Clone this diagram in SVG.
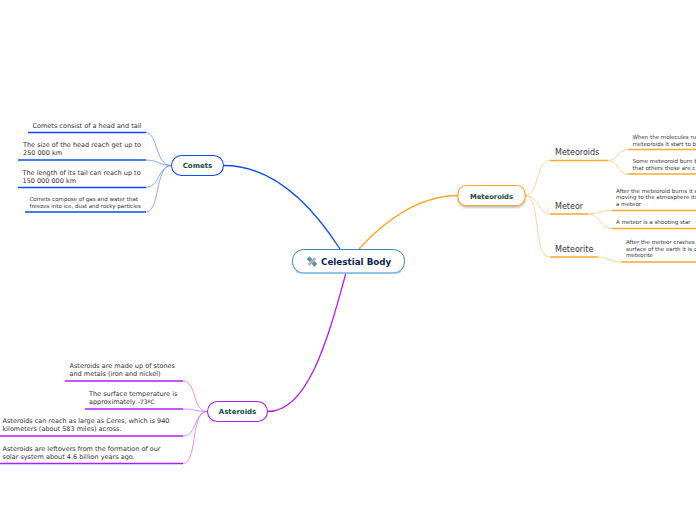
<svg xmlns="http://www.w3.org/2000/svg" width="696" height="520" viewBox="0 0 696 520">
<style>
text{font-family:"DejaVu Sans","Liberation Sans",sans-serif;fill:#333}
.t7{font-size:6.5px}.t5{font-size:5.5px}
.mt{font-size:7px;font-weight:bold;fill:#164a3c;text-anchor:middle}
.sub{font-size:8px}
path{fill:none}
.bl{stroke:#0a4cf5}.pu{stroke:#b01cff}.or{stroke:#ffa726}
.thin{stroke-width:.8;opacity:.6}
.ul{stroke-width:1.6}
.main{stroke-width:1.3}
.node{fill:#fff;stroke-width:1.1}
</style>
<defs><filter id="sh" x="-10%" y="-20%" width="120%" height="150%"><feDropShadow dx="0" dy="1.5" stdDeviation="1" flood-color="#000" flood-opacity=".3"/></filter></defs>
<g id="connectors">
<path class="bl main" d="M340 249C320 218 280 165.500 224 165.500"/>
<path class="or main" d="M359 249C385 220 420 195.500 458 195.500"/>
<path class="pu main" d="M346 273C330 330 310 411.500 268 411.500"/>
<g class="bl ul"><path d="M28 132.500H146"/><path d="M18 160H146"/><path d="M18 187.500H146"/><path d="M25 212H146"/></g>
<g class="bl thin"><path d="M146 132.500C158 133 155 165 171 165.500"/><path d="M146 160C158 160 160 165.500 171 165.500"/><path d="M146 187.500C160 187 158 166 171 165.500"/><path d="M146 212C160 212 155 166 171 165.500"/></g>
<g class="pu ul"><path d="M65 381H183"/><path d="M85 409H183"/><path d="M0 436H183"/><path d="M0 463.500H183"/></g>
<g class="pu thin"><path d="M183 381C197 381 192 411 207 411.500"/><path d="M183 409C195 409 197 411.500 207 411.500"/><path d="M183 436C197 436 194 412 207 411.500"/><path d="M183 463.500C198 463 190 412 207 411.500"/></g>
<g class="or ul"><path d="M550 160.500H608"/><path d="M550 214H588"/><path d="M550 257H598"/><path d="M628 149.500H696"/><path d="M628 174H696"/><path d="M612 210.500H696"/><path d="M612 228.500H696"/><path d="M621 262H696"/></g>
<g class="or thin"><path d="M525 195.500C540 195 535 160.500 550 160.500"/><path d="M525 195.500C540 196 538 214 550 214"/><path d="M525 195.500C542 196 532 257 550 257"/><path d="M608 160.500C618 160.500 618 149.500 628 149.500"/><path d="M608 160.500C618 160.500 618 174 628 174"/><path d="M588 214C600 214 600 210.500 612 210.500"/><path d="M588 214C600 214 600 228.500 612 228.500"/><path d="M598 257C610 257 608 262 621 262"/></g>
</g>
<g id="central">
<rect x="292.500" y="249.500" width="112" height="23.500" rx="11" fill="#fff" stroke="#2f86c6" stroke-width="1"/>
<path d="M296 271.500Q299 273.300 304 273.300H393Q398 273.300 401 271.500" stroke="#8fc4ea" stroke-width="1.200"/>
<g transform="rotate(-45 312 261.500)"><rect x="310" y="256" width="4" height="11" fill="#5d8fb5"/><rect x="307" y="260" width="10" height="3" fill="#b5b5b5"/></g>
<text x="321" y="265" style="font-size:8.75px;font-weight:bold;fill:#0d2350">Celestial Body</text>
</g>
<g id="comets"><rect x="171.500" y="155.500" width="52" height="20" rx="10" class="node bl"/><text x="197.500" y="168" class="mt">Comets</text></g>
<g id="meteoroids"><rect x="458" y="185.500" width="67" height="20" rx="8" class="node or" filter="url(#sh)"/><text x="491.500" y="198.500" class="mt" style="font-size:6.75px">Meteoroids</text></g>
<g id="asteroids"><rect x="207.500" y="401.500" width="60" height="20" rx="10" class="node pu"/><text x="237.500" y="414" class="mt">Asteroids</text></g>
<g id="comet-items">
<text x="32.500" y="128" class="t7">Comets consist of a head and tail</text>
<text x="23" y="147" class="t7">The size of the head reach get up to</text><text x="23" y="155" class="t7">250 000 km</text>
<text x="22.500" y="174.500" class="t7">The length of its tail can reach up to</text><text x="22.500" y="183" class="t7">150 000 000 km</text>
<text x="29.500" y="201" class="t5">Comets compose of gas and water that</text><text x="29.500" y="208" class="t5">freezes into ice, dust and rocky particles</text>
</g>
<g id="asteroid-items">
<text x="69.500" y="368" class="t7">Asteroids are made up of stones</text><text x="69.500" y="376" class="t7">and metals (iron and nickel)</text>
<text x="89" y="396" class="t7">The surface temperature is</text><text x="89" y="404" class="t7">approximately <tspan style="font-size:6px">-73ºC</tspan></text>
<text x="2.500" y="423" class="t7">Asteroids can reach as large as Ceres, which is 940</text><text x="2.500" y="431" class="t7">kilometers (about 583 miles) across.</text>
<text x="2.500" y="451" class="t7">Asteroids are leftovers from the formation of our</text><text x="2.500" y="459" class="t7">solar system about 4.6 billion years ago.</text>
</g>
<g id="meteoroid-items">
<text x="555" y="155" class="sub">Meteoroids</text>
<text x="555" y="209" class="sub">Meteor</text>
<text x="555" y="252" class="sub">Meteorite</text>
<text x="632.500" y="139" class="t5">When the molecules ru</text><text x="632.500" y="145.500" class="t5">meteoroids it start to b</text>
<text x="632.500" y="163" class="t5">Some meteoroid burn b</text><text x="632.500" y="170" class="t5">that others those are c</text>
<text x="616" y="193" class="t5">After the meteoroid burns it s</text><text x="616" y="199" class="t5">moving to the atmosphere its</text><text x="616" y="206" class="t5">a meteor</text>
<text x="616" y="224" class="t5">A meteor is a shooting star</text>
<text x="626" y="244" class="t5">After the meteor crashes</text><text x="626" y="251" class="t5">surface of the earth it is c</text><text x="626" y="257" class="t5">meteorite</text>
</g>
</svg>
